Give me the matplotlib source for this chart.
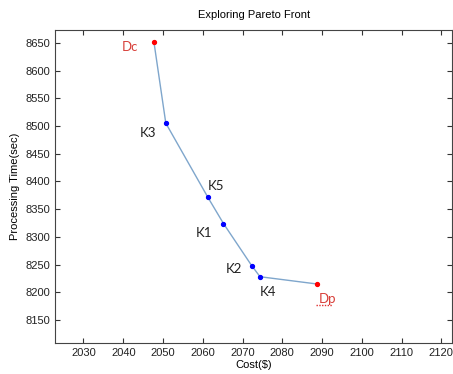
import matplotlib.pyplot as plt
from matplotlib.transforms import offset_copy

# pareto front points, in order along the curve
names = ["Dc", "K3", "K5", "K1", "K2", "K4", "Dp"]
cost = [2047.7, 2050.7, 2061.3, 2065.2, 2072.3, 2074.4, 2088.6]
ptime = [8652, 8505, 8371, 8324, 8248, 8228, 8215]
is_end = [True, False, False, False, False, False, True]

x_ticks = list(range(2030, 2121, 10))
y_ticks = list(range(8150, 8651, 50))

# label offsets (points) from each marker
label_off = {"Dc": (-17, -4), "K3": (-13, -7), "K5": (6, 8.5), "K1": (-14, -6.5),
             "K2": (-13, -2.5), "K4": (6, -11), "Dp": (8, -11)}

tickSize = 8
labelSize = 9.5

fig = plt.figure(figsize=(4.53, 3.74), dpi=100)
ax = fig.add_axes([0.122, 0.0837, 0.876, 0.836])

ax.plot(cost, ptime, color="#7fa6cc", linewidth=1.0, zorder=1)
for n, x, y, end in zip(names, cost, ptime, is_end):
    ax.plot(x, y, marker="o", markersize=2.8, color="red" if end else "blue",
            linestyle="none", zorder=2)
    ax.annotate(n, xy=(x, y), xytext=label_off[n], textcoords="offset points",
                ha="center", va="center", fontsize=labelSize, family="Lato",
                color="#d8403a" if end else "#222222")

# spell-check squiggle under "Dp"
dp = names.index("Dp")
tr = offset_copy(ax.transData, fig=fig, x=0, y=-15.5, units="points")
ax.plot([cost[dp] - 0.2, cost[dp] + 3.8], [ptime[dp], ptime[dp]], transform=tr,
        color="#e03030", linewidth=1.0, linestyle=(0, (1, 1)))

ax.set_xlim(2022.9, 2122.7)
ax.set_ylim(8109, 8673)
ax.set_xticks(x_ticks)
ax.set_yticks(y_ticks)
ax.tick_params(direction="in", top=True, right=True, length=3.5, width=0.8,
               labelsize=tickSize, colors="#333333", labelcolor="#222222")
for s in ax.spines.values():
    s.set_color("#444444")
    s.set_linewidth(0.8)

ax.set_title("Exploring Pareto Front", fontsize=8, family="Liberation Sans", pad=9)
ax.set_xlabel("Cost($)", fontsize=8, family="Liberation Sans", labelpad=2)
ax.set_ylabel("Processing Time(sec)", fontsize=8, family="Liberation Sans", labelpad=4)
for lab in ax.get_xticklabels() + ax.get_yticklabels():
    lab.set_family("Liberation Sans")

fig.savefig("out.png", dpi=100)
